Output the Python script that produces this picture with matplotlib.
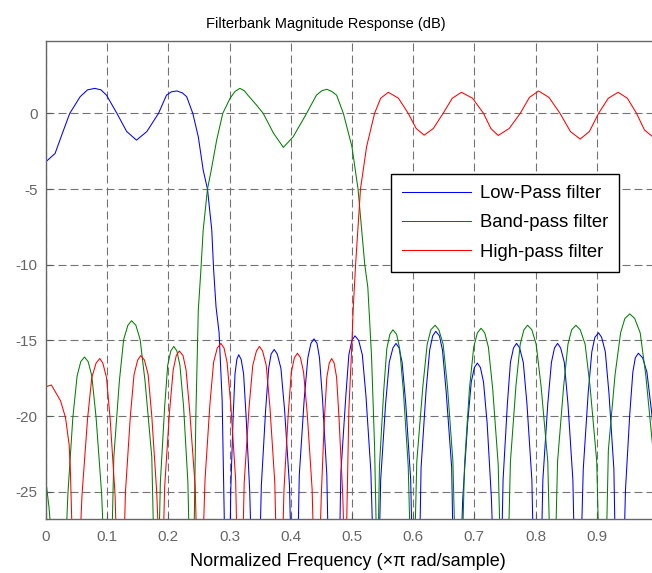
import matplotlib
matplotlib.use('Agg')
import matplotlib.pyplot as plt

plt.rcParams['font.family'] = ['Liberation Sans', 'DejaVu Sans']
plt.rcParams['axes.unicode_minus'] = False

# frequency (x pi rad/sample) and magnitude (dB) of the three filters
lp_freq = [0, .015, .028, .039, .056, .068, .080, .090, .099, .116, .132, .148, .165,
           .184, .197, .205, .214, .223, .230, .240, .249, .257, .264, .271, .274,
           .278, .283, .288, .292,
           .301, .302, .306, .309, .312, .315, .319, .323, .327, .333, .335,
           .350, .352, .359, .364, .368, .373, .378, .384, .390, .398, .400,
           .412, .414, .422, .428, .433, .438, .443, .447, .452, .459, .461,
           .480, .482, .490, .495, .500, .505, .511, .517, .523, .531, .534,
           .545, .547, .555, .561, .567, .572, .577, .582, .588, .596, .598,
           .611, .613, .621, .627, .632, .637, .643, .648, .654, .663, .665,
           .679, .681, .689, .695, .700, .705, .710, .715, .721, .728, .730,
           .745, .747, .754, .759, .764, .769, .774, .780, .786, .794, .796,
           .810, .812, .820, .826, .831, .836, .841, .847, .853, .861, .863,
           .875, .878, .886, .892, .897, .903, .908, .914, .920, .928, .930,
           .945, .947, .954, .959, .963, .968, .975, .982, .990, 1.000, 1.003]
lp_db = [-3.2, -2.65, -1.2, 0, 1.1, 1.55, 1.65, 1.55, 1.2, 0, -1.2, -1.77, -1.2,
         0, 1.2, 1.42, 1.48, 1.35, 1.1, 0, -1.55, -3.75, -5, -7.7, -10.3,
         -12.8, -14.5, -19, -28,
         -28, -24.95, -19.95, -17.2, -16.25, -15.95, -16.25, -17.2, -19.95, -24.95, -28,
         -28, -24.6, -19.6, -16.85, -15.9, -15.6, -15.9, -16.85, -19.6, -24.6, -28,
         -28, -23.9, -18.9, -16.15, -15.2, -14.9, -15.2, -16.15, -18.9, -23.9, -28,
         -28, -23.7, -18.7, -15.95, -15.0, -14.7, -15.0, -15.95, -18.7, -23.7, -28,
         -28, -24.2, -19.2, -16.45, -15.5, -15.2, -15.5, -16.45, -19.2, -24.2, -28,
         -28, -23.4, -18.4, -15.65, -14.7, -14.4, -14.7, -15.65, -18.4, -23.4, -28,
         -28, -25.5, -20.5, -17.75, -16.8, -16.5, -16.8, -17.75, -20.5, -25.5, -28,
         -28, -24.2, -19.2, -16.45, -15.5, -15.2, -15.5, -16.45, -19.2, -24.2, -28,
         -28, -24.2, -19.2, -16.45, -15.5, -15.2, -15.5, -16.45, -19.2, -24.2, -28,
         -28, -23.5, -18.5, -15.75, -14.8, -14.5, -14.8, -15.75, -18.5, -23.5, -28,
         -28, -24.85, -19.85, -17.1, -16.15, -15.85, -16.15, -17.1, -19.85, -24.85, -28]

bp_freq = [0, .005, .009,
           .033, .036, .044, .051, .057, .063, .069, .075, .082, .091, .094,
           .108, .111, .120, .127, .134, .140, .147, .154, .162, .173, .176,
           .185, .187, .194, .199, .204, .209, .214, .219, .225, .232, .234,
           .242, .245, .249, .253, .257, .264, .269, .279, .289, .301, .309, .317,
           .324, .330, .344, .355, .372, .388, .404, .426, .442, .451, .459, .467,
           .475, .486, .500, .510, .521, .526, .532, .537, .540,
           .543, .545, .552, .557, .562, .567, .573, .578, .584, .592, .595,
           .603, .606, .616, .623, .629, .636, .642, .649, .656, .665, .668,
           .681, .684, .692, .699, .705, .711, .717, .723, .730, .739, .742,
           .756, .759, .768, .775, .781, .787, .794, .801, .809, .820, .823,
           .833, .836, .846, .853, .859, .866, .873, .881, .889, .900, .903,
           .916, .919, .930, .939, .946, .954, .962, .971, .980, .992, .996]
bp_db = [-24.3, -26.0, -28,
         -28, -25.1, -20.1, -17.35, -16.4, -16.1, -16.4, -17.35, -20.1, -25.1, -28,
         -28, -22.7, -17.7, -14.95, -14.0, -13.7, -14.0, -14.95, -17.7, -22.7, -28,
         -28, -24.4, -19.4, -16.65, -15.7, -15.4, -15.7, -16.65, -19.4, -24.4, -28,
         -28, -20, -13, -10.5, -7.7, -5, -4, -1.77, 0, 1.0, 1.45, 1.65,
         1.5, 1.2, 0.55, 0, -1.32, -2.25, -1.55, 0, 1.2, 1.5, 1.59, 1.45,
         1.2, 0, -2.2, -5, -10, -11.5, -16, -22, -28,
         -28, -23.3, -18.3, -15.55, -14.6, -14.3, -14.6, -15.55, -18.3, -23.3, -28,
         -28, -23, -18, -15.25, -14.3, -14, -14.3, -15.25, -18, -23, -28,
         -28, -23.2, -18.2, -15.45, -14.5, -14.2, -14.5, -15.45, -18.2, -23.2, -28,
         -28, -23, -18, -15.25, -14.3, -14, -14.3, -15.25, -18, -23, -28,
         -28, -23, -18, -15.25, -14.3, -14, -14.3, -15.25, -18, -23, -28,
         -28, -22.25, -17.25, -14.5, -13.55, -13.25, -13.55, -14.5, -17.25, -22.25, -28]

hp_freq = [0, .009, .024, .032, .038, .040, .043,
           .056, .059, .068, .075, .082, .088, .093, .099, .105, .113, .115,
           .128, .130, .138, .144, .150, .155, .161, .167, .173, .181, .184,
           .192, .194, .202, .208, .213, .218, .224, .229, .235, .244, .246,
           .257, .260, .268, .274, .280, .286, .291, .296, .302, .310, .312,
           .322, .324, .332, .338, .344, .349, .354, .360, .366, .374, .376,
           .387, .389, .396, .401, .406, .411, .416, .421, .427, .435, .437,
           .448, .450, .455, .459, .463, .467, .471, .475, .479, .485, .487,
           .491, .495, .500, .502, .506, .514, .524, .537, .547, .5595, .576,
           .592, .605, .618, .633, .649, .664, .679, .697, .715, .727, .739,
           .757, .775, .790, .805, .822, .840, .857, .873, .888, .903, .919,
           .935, .950, .965, .978, .990]
hp_db = [-18.06, -17.95, -19, -20.1, -21.9, -23.6, -28,
         -28, -25.2, -20.2, -17.45, -16.5, -16.2, -16.5, -17.45, -20.2, -25.2, -28,
         -28, -25, -20, -17.25, -16.3, -16, -16.3, -17.25, -20, -25, -28,
         -28, -24.7, -19.7, -16.95, -16.0, -15.7, -16.0, -16.95, -19.7, -24.7, -28,
         -28, -24.2, -19.2, -16.45, -15.5, -15.2, -15.5, -16.45, -19.2, -24.2, -28,
         -28, -24.4, -19.4, -16.65, -15.7, -15.4, -15.7, -16.65, -19.4, -24.4, -28,
         -28, -24.85, -19.85, -17.1, -16.15, -15.85, -16.15, -17.1, -19.85, -24.85, -28,
         -28, -25.2, -20.2, -17.45, -16.5, -16.2, -16.5, -17.45, -20.2, -25.2, -28,
         -28, -19.6, -15.2, -13, -10, -5, -2.2, 0, 1.0, 1.39, 1.0,
         0, -1.0, -1.44, -1.0, 0, 1.0, 1.39, 1.0, 0, -1.0, -1.46,
         -1.0, 0, 1.05, 1.48, 1.05, 0, -1.2, -1.7, -1.2, 0, 1.0,
         1.39, 1.0, 0, -1.1, -1.5]

labels = ['Low-Pass filter', 'Band-pass filter', 'High-pass filter']
xticks = [0, 0.1, 0.2, 0.3, 0.4, 0.5, 0.6, 0.7, 0.8, 0.9]
yticks = [0, -5, -10, -15, -20, -25]

fig = plt.figure(figsize=(6.52, 5.73), dpi=100)
ax = fig.add_axes([0.0704, 0.0948, 0.9387, 0.8342])

ax.plot(lp_freq, lp_db, color=(0, 0, 1), lw=0.75, label=labels[0])
ax.plot(bp_freq, bp_db, color=(0, 0.5, 0), lw=0.75, label=labels[1])
ax.plot(hp_freq, hp_db, color=(1, 0, 0), lw=0.75, label=labels[2])

ax.set_xlim(0, 1)
ax.set_ylim(-26.78, 4.80)
ax.set_xticks(xticks)
ax.set_xticklabels(['0'] + ['%.1f' % t for t in xticks[1:]])
ax.set_yticks(yticks)
ax.grid(True, color='0.45', lw=0.8, linestyle=(0, (7.2, 3.6)))
ax.tick_params(direction='in', length=4, labelsize=11, colors='0.35',
               labelcolor='0.4')
ax.tick_params(axis='x', pad=8)
ax.tick_params(axis='y', pad=6)
for s in ax.spines.values():
    s.set_color('0.4')
    s.set_linewidth(1.0)

fig.text(0.5, 0.958, 'Filterbank Magnitude Response (dB)', fontsize=10.5,
         ha='center', va='center')
fig.text(0.533, 0.0195, 'Normalized Frequency (\u00d7\u03c0 rad/sample)',
         fontsize=13, ha='center', va='center')

leg = ax.legend(loc='upper left', bbox_to_anchor=(0.564, 0.721),
                borderaxespad=0, fontsize=13.3, handlelength=3.7,
                handletextpad=0.5, fancybox=False, edgecolor='black',
                framealpha=1, borderpad=0.6, labelspacing=0.66)
leg.get_frame().set_linewidth(1.0)

fig.savefig('out.png', dpi=100)
